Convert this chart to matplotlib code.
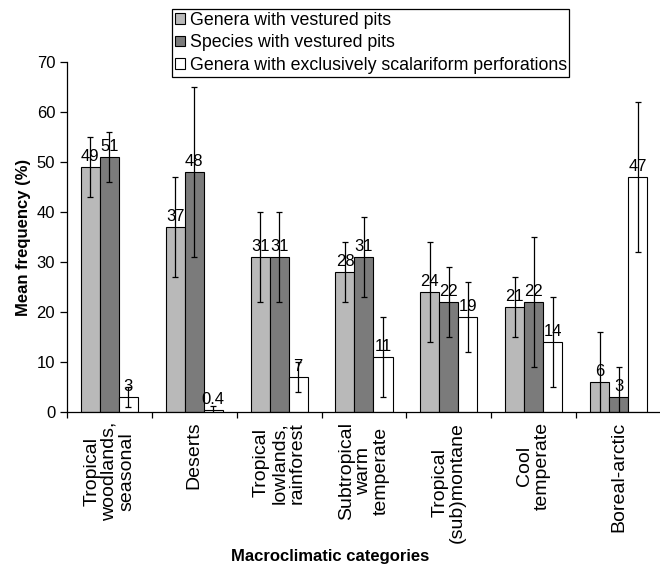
import matplotlib.pyplot as plt
import numpy as np

plt.rcParams['font.family'] = ['Liberation Sans', 'DejaVu Sans']

# categories and series
categories = ["Tropical\nwoodlands,\nseasonal", "Deserts", "Tropical\nlowlands,\nrainforest",
              "Subtropical\nwarm\ntemperate", "Tropical\n(sub)montane", "Cool\ntemperate",
              "Boreal-arctic"]
series_names = ["Genera with vestured pits", "Species with vestured pits",
                "Genera with exclusively scalariform perforations"]
genera_vp = [49, 37, 31, 28, 24, 21, 6]
species_vp = [51, 48, 31, 31, 22, 22, 3]
genera_scal = [3, 0.4, 7, 11, 19, 14, 47]
genera_vp_err = [6, 10, 9, 6, 10, 6, 10]
species_vp_err = [5, 17, 9, 8, 7, 13, 6]
genera_scal_err = [2, 0.8, 3, 8, 7, 9, 15]
value_labels = [["49", "37", "31", "28", "24", "21", "6"],
                ["51", "48", "31", "31", "22", "22", "3"],
                ["3", "0.4", "7", "11", "19", "14", "47"]]
colors = ["#b9b9b9", "#7b7b7b", "#ffffff"]

fig = plt.figure(figsize=(6.6, 5.66), dpi=100)
ax = fig.add_axes([0.1015, 0.272, 0.9, 0.618])

x = np.arange(len(categories))
w = 0.224
all_vals = [genera_vp, species_vp, genera_scal]
all_errs = [genera_vp_err, species_vp_err, genera_scal_err]

for i in range(3):
    pos = x + (i - 1) * w
    ax.bar(pos, all_vals[i], w, color=colors[i], edgecolor="black", linewidth=0.8,
           label=series_names[i], zorder=2)
    ax.errorbar(pos, all_vals[i], yerr=all_errs[i], fmt="none", ecolor="black",
                elinewidth=0.9, capsize=2.5, capthick=0.9, zorder=3)
    for p, v, t in zip(pos, all_vals[i], value_labels[i]):
        ax.annotate(t, (p, v), xytext=(0, 2), textcoords="offset points",
                    ha="center", va="bottom", fontsize=12, zorder=4)

ax.set_xlim(-0.5, 6.5)
ax.set_ylim(0, 70)
ax.set_yticks(range(0, 71, 10))
ax.tick_params(axis="y", labelsize=12, length=5, width=0.9, direction="out")
ax.set_xticks(x)
ax.set_xticklabels(categories, rotation=90, fontsize=14, ha="center", va="top",
                   multialignment="center", linespacing=1.05)
ax.tick_params(axis="x", which="major", length=0, pad=7)
ax.set_xticks(np.arange(-0.5, 7, 1), minor=True)
ax.tick_params(axis="x", which="minor", length=4, width=0.9, direction="out")

for s in ["top", "right"]:
    ax.spines[s].set_visible(False)
ax.spines["left"].set_linewidth(0.9)
ax.spines["bottom"].set_linewidth(0.9)

ax.set_ylabel("Mean frequency (%)", fontsize=12, fontweight="bold", labelpad=4)
fig.text(0.5, 1 - 556 / 566, "Macroclimatic categories", ha="center", va="center",
         fontsize=12, fontweight="bold")

leg = fig.legend(loc="upper left", bbox_to_anchor=(172 / 660, 1 - 9 / 566),
                 borderaxespad=0, fontsize=12.8, handlelength=0.56, handleheight=0.56,
                 handletextpad=0.28, labelspacing=0.32, borderpad=0.15,
                 fancybox=False, edgecolor="black", framealpha=1)
leg.get_frame().set_linewidth(0.9)

fig.savefig("out.png", dpi=100)
